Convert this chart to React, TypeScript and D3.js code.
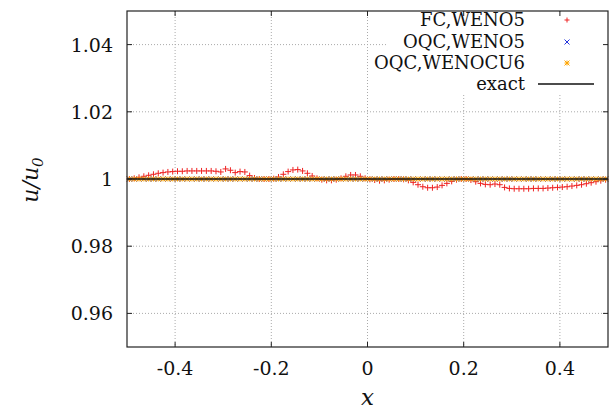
import React from "react";
import * as d3 from "d3";

// cell centres, dx = 0.01
const xs: number[] = d3.range(100).map((i) => -0.495 + i * 0.01);

const fcWeno5: number[] = [
  1.0, 1.0002, 1.0005, 1.0008, 1.0011, 1.0014, 1.0017, 1.0019, 1.0021, 1.0022,
  1.0023, 1.0023, 1.0024, 1.0024, 1.0024, 1.0024, 1.0024, 1.0024, 1.0023, 1.0021,
  1.003, 1.0026, 1.0019, 1.0022, 1.0021, 1.001, 1.0003, 1.0, 1.0, 1.0,
  1.0001, 1.0006, 1.0014, 1.0022, 1.0027, 1.0028, 1.0024, 1.0017, 1.0009, 1.0002,
  0.9998, 0.9996, 0.9996, 0.9998, 1.0002, 1.0008, 1.0012, 1.0012, 1.0008, 1.0002,
  0.9999, 0.9997, 0.9995, 0.9996, 0.9998, 1.0, 1.0, 0.9999, 0.9996, 0.999,
  0.9983, 0.9977, 0.9974, 0.9974, 0.9976, 0.9981, 0.9987, 0.9993, 0.9998, 1.0,
  1.0, 0.9997, 0.9992, 0.9987, 0.9984, 0.9983, 0.9985, 0.9983, 0.9975, 0.9972,
  0.9971, 0.9971, 0.9971, 0.9971, 0.9972, 0.9972, 0.9972, 0.9973, 0.9974, 0.9975,
  0.9976, 0.9977, 0.9979, 0.9981, 0.9983, 0.9986, 0.9989, 0.9992, 0.9995, 0.9998,
];

const oqcWeno5: number[] = [
  1, 1, 1, 1, 1, 1, 1, 1, 1, 1,
  1, 1, 1, 1, 1, 1, 1, 1, 1, 1,
  1, 1, 1, 1, 1, 1, 1, 1, 1, 1,
  1, 1, 1, 1, 1, 1, 1, 1, 1, 1,
  1, 1, 1, 1, 1, 1, 1, 1, 1, 1,
  1, 1, 1, 1, 1, 1, 1, 1, 1, 1,
  1, 1, 1, 1, 1, 1, 1, 1, 1, 1,
  1, 1, 1, 1, 1, 1, 1, 1, 1, 1,
  1, 1, 1, 1, 1, 1, 1, 1, 1, 1,
  1, 1, 1, 1, 1, 1, 1, 1, 1, 1,
];

const oqcWenocu6: number[] = [
  1, 1, 1, 1, 1, 1, 1, 1, 1, 1,
  1, 1, 1, 1, 1, 1, 1, 1, 1, 1,
  1, 1, 1, 1, 1, 1, 1, 1, 1, 1,
  1, 1, 1, 1, 1, 1, 1, 1, 1, 1,
  1, 1, 1, 1, 1, 1, 1, 1, 1, 1,
  1, 1, 1, 1, 1, 1, 1, 1, 1, 1,
  1, 1, 1, 1, 1, 1, 1, 1, 1, 1,
  1, 1, 1, 1, 1, 1, 1, 1, 1, 1,
  1, 1, 1, 1, 1, 1, 1, 1, 1, 1,
  1, 1, 1, 1, 1, 1, 1, 1, 1, 1,
];

const exactX: number[] = [-0.5, 0.5];
const exactU: number[] = [1, 1];

const xTicks: number[] = [-0.4, -0.2, 0, 0.2, 0.4];
const xTickLabels: string[] = ["-0.4", "-0.2", "0", "0.2", "0.4"];
const yTicks: number[] = [0.96, 0.98, 1, 1.02, 1.04];
const yTickLabels: string[] = ["0.96", "0.98", "1", "1.02", "1.04"];

const legendLabels: string[] = ["FC,WENO5", "OQC,WENO5", "OQC,WENOCU6", "exact"];

const W = 612;
const H = 414;
const left = 127;
const right = 608;
const top = 11;
const bottom = 347;
const font = "DejaVu Serif, Liberation Serif, serif";

const RED = "#ee2222";
const BLUE = "#2233dd";
const ORANGE = "#ffa500";

const Plus = ({ x, y, c, s = 3 }: { x: number; y: number; c: string; s?: number }) => (
  <path d={`M${x - s},${y}H${x + s}M${x},${y - s}V${y + s}`} stroke={c} strokeWidth={1} fill="none" />
);
const Cross = ({ x, y, c, s = 2.5 }: { x: number; y: number; c: string; s?: number }) => (
  <path
    d={`M${x - s},${y - s}L${x + s},${y + s}M${x - s},${y + s}L${x + s},${y - s}`}
    stroke={c}
    strokeWidth={1}
    fill="none"
  />
);
const Star = ({ x, y, c, s = 2.5 }: { x: number; y: number; c: string; s?: number }) => (
  <path
    d={`M${x - s},${y}H${x + s}M${x},${y - s}V${y + s}M${x - s},${y - s}L${x + s},${y + s}M${x - s},${y + s}L${x + s},${y - s}`}
    stroke={c}
    strokeWidth={1}
    fill="none"
  />
);

export default function App() {
  const x = d3.scaleLinear().domain([-0.5, 0.5]).range([left, right]);
  const y = d3.scaleLinear().domain([0.95, 1.05]).range([bottom, top]);
  const exactLine = d3
    .line<number>()
    .x((d) => x(d))
    .y((_, i) => y(exactU[i]));

  const keyX = 525;
  const keyRows = [20, 42, 63, 84];
  const symX = 567;
  const txt = { fontFamily: font };

  return (
    <svg
      width={W}
      height={H}
      style={{ position: "absolute", left: 0, top: 0, background: "#fff", fontFamily: font }}
    >
      <rect width={W} height={H} fill="#fff" />
      {/* grid */}
      <g stroke="#aaa" strokeWidth={1} strokeDasharray="1,2">
        {xTicks.map((t) => (
          <line key={"gx" + t} x1={x(t)} x2={x(t)} y1={top} y2={bottom} />
        ))}
        {yTicks.map((t) => (
          <line key={"gy" + t} x1={left} x2={right} y1={y(t)} y2={y(t)} />
        ))}
      </g>
      {/* opaque key */}
      <rect x={386} y={top + 1} width={right - 386 - 1} height={81} fill="#fff" />

      {/* data */}
      {xs.map((v, i) => (
        <Plus key={"fc" + i} x={x(v)} y={y(fcWeno5[i])} c={RED} />
      ))}
      {xs.map((v, i) => (
        <Cross key={"o5" + i} x={x(v)} y={y(oqcWeno5[i])} c={BLUE} />
      ))}
      {xs.map((v, i) => (
        <Star key={"o6" + i} x={x(v)} y={y(oqcWenocu6[i])} c={ORANGE} />
      ))}
      <path d={exactLine(exactX) || ""} stroke="#111" strokeWidth={1.4} fill="none" />

      {/* border and ticks */}
      <rect x={left} y={top} width={right - left} height={bottom - top} fill="none" stroke="#222" strokeWidth={1.2} />
      <g stroke="#222" strokeWidth={1}>
        {xTicks.map((t) => (
          <g key={"tx" + t}>
            <line x1={x(t)} x2={x(t)} y1={bottom} y2={bottom - 5} />
            <line x1={x(t)} x2={x(t)} y1={top} y2={top + 5} />
          </g>
        ))}
        {yTicks.map((t) => (
          <g key={"ty" + t}>
            <line x1={left} x2={left + 5} y1={y(t)} y2={y(t)} />
            <line x1={right} x2={right - 5} y1={y(t)} y2={y(t)} />
          </g>
        ))}
      </g>

      {/* tick labels */}
      <g fontSize={19} fill="#111" style={txt}>
        {xTicks.map((t, i) => (
          <text key={"lx" + t} x={x(t)} y={375} textAnchor="middle" style={txt}>
            {xTickLabels[i]}
          </text>
        ))}
        {yTicks.map((t, i) => (
          <text key={"ly" + t} x={113} y={y(t) + 7} textAnchor="end" style={txt}>
            {yTickLabels[i]}
          </text>
        ))}
      </g>

      {/* axis labels */}
      <text x={x(0)} y={405} textAnchor="middle" fontSize={23} fontStyle="italic" fill="#111" style={txt}>
        x
      </text>
      <text
        transform="translate(38,180) rotate(-90)"
        textAnchor="middle"
        fontSize={22}
        fontStyle="italic"
        fill="#111"
        style={txt}
      >
        u/u<tspan fontSize={15} dy={5}>0</tspan>
      </text>

      {/* legend */}
      <g fontSize={18} fill="#111" style={txt}>
        {legendLabels.map((l, i) => (
          <text key={l} x={keyX} y={keyRows[i] + 6} textAnchor="end" style={txt}>
            {l}
          </text>
        ))}
      </g>
      <Plus x={symX} y={keyRows[0]} c={RED} s={2.5} />
      <Cross x={symX} y={keyRows[1]} c={BLUE} />
      <Star x={symX} y={keyRows[2]} c={ORANGE} />
      <line x1={538} x2={594} y1={keyRows[3]} y2={keyRows[3]} stroke="#111" strokeWidth={1.4} />
    </svg>
  );
}
